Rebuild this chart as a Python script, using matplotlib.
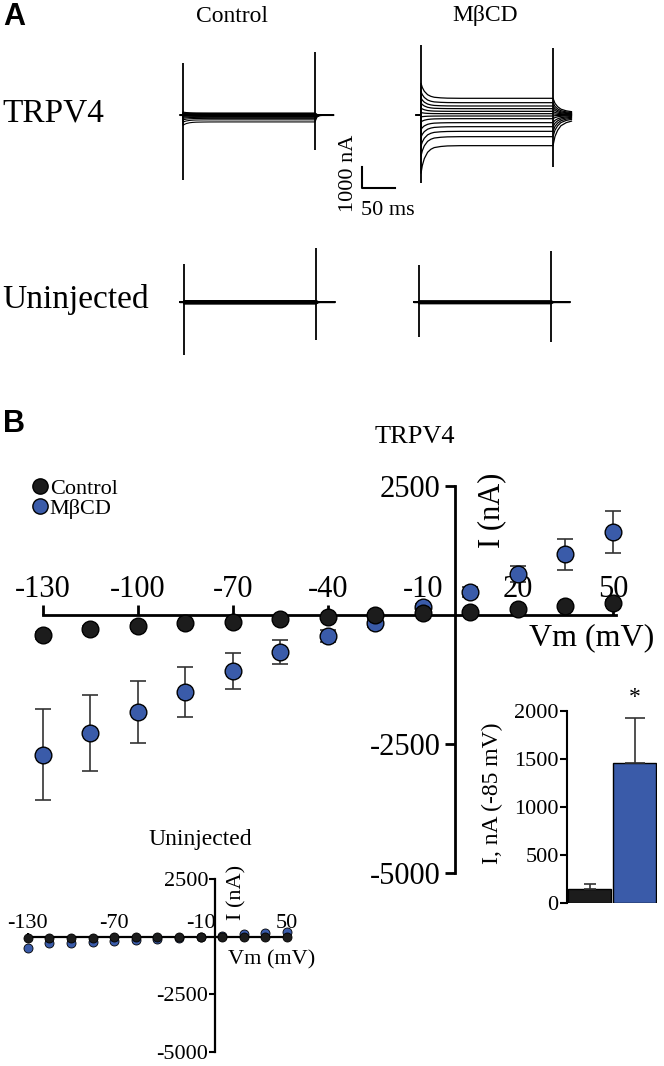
import matplotlib
matplotlib.use('Agg')
import matplotlib.pyplot as plt
from matplotlib.lines import Line2D

W, H = 664, 1066
plt.rcParams['font.family'] = ['Liberation Serif', 'DejaVu Serif']
plt.rcParams['axes.unicode_minus'] = False

BLUE = '#3a5ba9'
DARK = '#1c1c1c'

# ---- panel B: I-V data (nA) ----
vm = [-130, -115, -100, -85, -70, -55, -40, -25, -10, 5, 20, 35, 50]
ctrl_i = [-390, -270, -210, -160, -135, -80, -40, 0, 40, 60, 115, 175, 230]
ctrl_err = [70, 60, 55, 50, 45, 40, 35, 30, 30, 30, 35, 45, 55]
mbcd_i = [-2710, -2290, -1880, -1490, -1085, -715, -405, -155, 155, 445, 795, 1180, 1610]
mbcd_err = [880, 740, 610, 480, 350, 230, 120, 80, 60, 90, 155, 300, 415]
uninj_ctrl_i = [-30, -30, -25, -25, -20, -20, -15, -10, -5, 0, 10, 15, 20]
uninj_mbcd_i = [-470, -260, -250, -210, -170, -120, -90, -60, -20, 40, 130, 170, 220]

# inset bar: current at -85 mV
bar_groups = ['Control', 'MβCD']
bar_i = [150, 1460]
bar_err = [45, 470]

# ---- panel A: current traces (steady-state level per sweep, nA) ----
ss_trpv4_ctrl = [95, 70, 50, 30, 15, 0, -20, -45, -75, -110, -160, -230, -330]
ss_trpv4_mbcd = [795, 587, 429, 302, 175, 63, -48, -175, -365, -556, -778, -1032, -1460]
ss_uninj_ctrl = [60, 45, 30, 20, 10, 0, -10, -20, -30, -40, -55, -70, -90]
ss_uninj_mbcd = [50, 35, 25, 15, 5, 0, -10, -20, -25, -35, -45, -60, -80]

onset_t = [0, 2, 5, 10, 15, 20, 30, 40, 60, 200]
onset_decay = [1.0, 0.72, 0.47, 0.24, 0.13, 0.07, 0.03, 0.01, 0.0, 0.0]
tail_t = [203, 207, 212, 220, 228]
tail_mbcd = [0.7, 0.5, 0.35, 0.25, 0.2]
tail_ctrl = [0.3, 0.1, 0.05, 0.0, 0.0]

# capacitive spikes: TRPV4 ctrl, TRPV4 MβCD, uninj ctrl, uninj MβCD
on_spike_hi = [2480, 3330, 1810, 1760]
on_spike_lo = [-3100, -3240, -2520, -1670]
off_spike_hi = [3000, 3190, 2570, 2430]
off_spike_lo = [-1670, -2480, -1810, -1900]

PX_MS = 0.66
PX_NA = 0.021


def fx(px):
    return px / W


def fy(py):
    return 1 - py / H


fig = plt.figure(figsize=(W / 100, H / 100), dpi=100)


def trace_axes(x_on, y_base, tlim=(-20, 250), ilim=(-4000, 4000)):
    left = (x_on + tlim[0] * PX_MS) / W
    width = (tlim[1] - tlim[0]) * PX_MS / W
    bottom = 1 - (y_base - ilim[0] * PX_NA) / H
    height = (ilim[1] - ilim[0]) * PX_NA / H
    ax = fig.add_axes([left, bottom, width, height])
    ax.set_xlim(*tlim)
    ax.set_ylim(*ilim)
    ax.axis('off')
    return ax


def draw_traces(ax, levels, overshoot, tail, k, t_pre=-6, lw=0.8):
    for ss in levels:
        t = [t_pre, 0] + onset_t + tail_t
        i = [0, 0] + [ss + (overshoot - 1) * ss * d for d in onset_decay] + [ss * f for f in tail]
        ax.plot(t, i, color='black', lw=lw)
    ax.vlines([0], on_spike_lo[k], on_spike_hi[k], color='black', lw=1.3)
    ax.vlines([200], off_spike_lo[k], off_spike_hi[k], color='black', lw=1.3)


ax1 = trace_axes(183, 115)
draw_traces(ax1, ss_trpv4_ctrl, 1.5, tail_ctrl, 0, t_pre=-4)
ax2 = trace_axes(421, 115, tlim=(-120, 250), ilim=(-5000, 4000))
draw_traces(ax2, ss_trpv4_mbcd, 1.9, tail_mbcd, 1, t_pre=-7, lw=0.9)
ax3 = trace_axes(184, 302)
draw_traces(ax3, ss_uninj_ctrl, 1.0, tail_ctrl, 2, t_pre=-6, lw=1.0)
ax4 = trace_axes(419, 302)
draw_traces(ax4, ss_uninj_mbcd, 1.0, tail_ctrl, 3, t_pre=-8, lw=1.0)

# scale bar
ax2.plot([-89, -89, -39], [-2476, -3476, -3476], color='black', lw=1.5, clip_on=False)
ax2.text(-96, -2800, '1000 nA', rotation=90, ha='right', va='center', fontsize=16)
ax2.text(-91, -4550, '50 ms', ha='left', va='center', fontsize=16)

fig.text(fx(3), fy(17), 'A', fontsize=22, fontweight='bold', family='Liberation Sans', va='center')
fig.text(fx(232), fy(16), 'Control', fontsize=17, ha='center', va='center')
fig.text(fx(485), fy(16), 'MβCD', fontsize=17, ha='center', va='center')
fig.text(fx(2), fy(113), 'TRPV4', fontsize=24, va='center')
fig.text(fx(2), fy(300), 'Uninjected', fontsize=24, va='center')

# ---- panel B main I-V ----
fig.text(fx(3), fy(424), 'B', fontsize=22, fontweight='bold', family='Liberation Sans', va='center')
ax = fig.add_axes([fx(10), fy(905), (660 - 10) / W, (905 - 420) / H])
ax.set_facecolor('none')
ax.set_xlim(-140.4, 64.9)
ax.set_ylim(-5620, 3779)
for s in ['bottom', 'right']:
    ax.spines[s].set_visible(False)
ax.spines['top'].set_position(('data', 0))
ax.spines['top'].set_bounds(-130, 51)
ax.spines['left'].set_position(('data', 0))
ax.spines['left'].set_bounds(-5000, 2500)
for s in ['top', 'left']:
    ax.spines[s].set_linewidth(2)
ax.xaxis.tick_top()
ax.set_xticks([-130, -100, -70, -40, -10, 20, 50])
ax.set_yticks([-5000, -2500, 2500])
ax.tick_params(axis='x', direction='out', length=7, width=2, labelsize=22, pad=1)
ax.tick_params(axis='y', direction='out', length=7, width=2, labelsize=22, pad=3)

ax.errorbar(vm, mbcd_i, yerr=mbcd_err, fmt='none', ecolor='#333333', elinewidth=1.2, capsize=6, capthick=1.2, zorder=3)
ax.errorbar(vm, ctrl_i, yerr=ctrl_err, fmt='none', ecolor='#333333', elinewidth=1.2, capsize=6, capthick=1.2, zorder=3)
ax.plot(vm, mbcd_i, ls='none', marker='o', ms=12, mfc=BLUE, mec='black', mew=1, zorder=4)
ax.plot(vm, ctrl_i, ls='none', marker='o', ms=12, mfc=DARK, mec='black', mew=1, zorder=5)

fig.text(fx(415), fy(437), 'TRPV4', fontsize=19, ha='center', va='center')
fig.text(fx(492), fy(510), 'I (nA)', fontsize=22, rotation=90, ha='center', va='center')
fig.text(fx(592), fy(638), 'Vm (mV)', fontsize=23, ha='center', va='center')

handles = [Line2D([], [], ls='none', marker='o', ms=11, mfc=DARK, mec='black', mew=1),
           Line2D([], [], ls='none', marker='o', ms=11, mfc=BLUE, mec='black', mew=1)]
fig.legend(handles, ['Control', 'MβCD'], loc='upper left', bbox_to_anchor=(fx(33), fy(478)),
           frameon=False, fontsize=16, handlelength=0.6, handletextpad=0.15,
           labelspacing=0.0, borderpad=0, borderaxespad=0)

# ---- bar inset ----
bx = fig.add_axes([fx(567), fy(903), 90 / W, 192 / H])
bx.set_facecolor('none')
bx.bar([0, 1], bar_i, width=0.96, color=[DARK, BLUE], edgecolor='black', lw=1)
bx.errorbar([0], [bar_i[0]], yerr=[[0], [bar_err[0]]], fmt='none', ecolor='#333333', elinewidth=1.2, capsize=4, capthick=1.2)
bx.errorbar([1], [bar_i[1]], yerr=[[0], [bar_err[1]]], fmt='none', ecolor='#333333', elinewidth=1.2, capsize=7, capthick=1.2)
bx.text(1, 2030, '*', ha='center', va='bottom', fontsize=17)
bx.set_xlim(-0.5, 1.5)
bx.set_ylim(0, 2000)
for s in ['top', 'right', 'bottom']:
    bx.spines[s].set_visible(False)
bx.spines['left'].set_linewidth(1.5)
bx.set_xticks([])
bx.set_yticks([0, 500, 1000, 1500, 2000])
bx.tick_params(axis='y', direction='out', length=5, width=1.5, labelsize=16, pad=1)
bx.text(-0.833, 0.573, 'I, nA (-85 mV)', transform=bx.transAxes, rotation=90,
        ha='center', va='center', fontsize=17)

# ---- uninjected inset ----
ux = fig.add_axes([0, 0, 330 / W, 236 / H])
ux.set_facecolor('none')
ux.set_xlim(-149.3, 79.9)
ux.set_ylim(-5609, 4652)
for s in ['bottom', 'right']:
    ux.spines[s].set_visible(False)
ux.spines['top'].set_position(('data', 0))
ux.spines['top'].set_bounds(-130, 50)
ux.spines['left'].set_position(('data', 0))
ux.spines['left'].set_bounds(-5000, 2500)
for s in ['top', 'left']:
    ux.spines[s].set_linewidth(1.6)
ux.xaxis.tick_top()
ux.set_xticks([-130, -70, -10, 50])
ux.set_yticks([-5000, -2500, 2500])
ux.tick_params(axis='x', direction='out', length=3, width=1.5, labelsize=16, pad=0)
ux.tick_params(axis='y', direction='out', length=4, width=1.5, labelsize=16, pad=1)
ux.plot(vm, uninj_mbcd_i, ls='none', marker='o', ms=6.5, mfc=BLUE, mec='black', mew=0.6, zorder=4)
ux.plot(vm, uninj_ctrl_i, ls='none', marker='o', ms=6.5, mfc=DARK, mec='black', mew=0.6, zorder=5)
fig.text(fx(200), fy(840), 'Uninjected', fontsize=17, ha='center', va='center')
fig.text(fx(237), fy(892), 'I (nA)', fontsize=16, rotation=90, ha='center', va='center')
fig.text(fx(272), fy(960), 'Vm (mV)', fontsize=16, ha='center', va='center')

fig.savefig('out.png', dpi=100)
